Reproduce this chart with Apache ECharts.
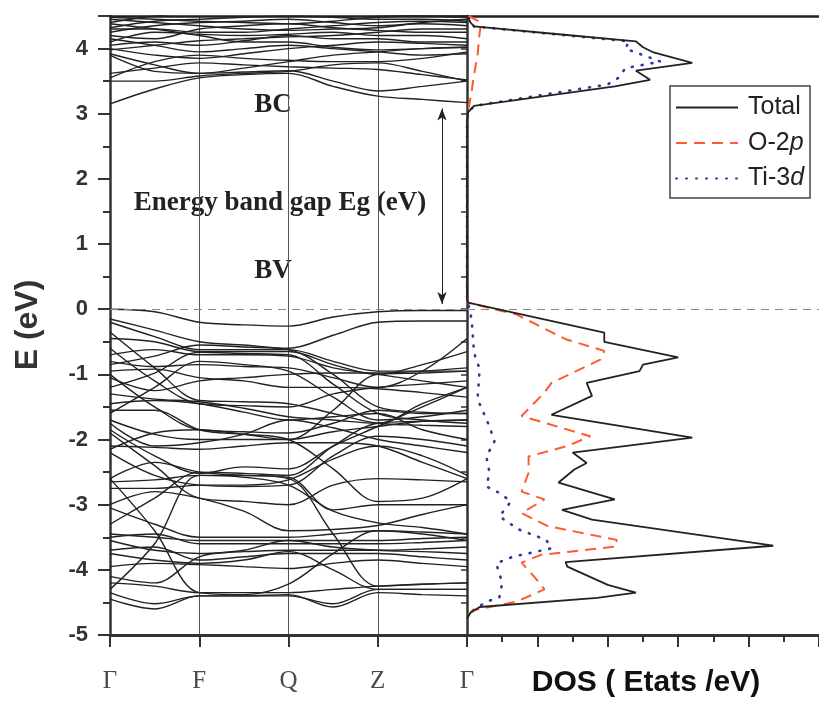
<!DOCTYPE html>
<html>
<head>
<meta charset="utf-8">
<script src="https://cdn.jsdelivr.net/npm/echarts@6/dist/echarts.min.js"></script>
<style>html,body{margin:0;padding:0;background:#fff;}#c{width:819px;height:704px;}</style>
</head>
<body>
<div id="c"></div>
<script>
// ---- k-path ----
const kPoints = [0, 0.5, 1, 1.5, 2, 2.5, 3, 3.5, 4];
const kLabels = ['Γ', 'F', 'Q', 'Z', 'Γ'];
const energyTicks = [-5, -4, -3, -2, -1, 0, 1, 2, 3, 4];

// ---- valence bands (eV at kPoints) ----
const valenceBands = [
  [0.00, -0.04, -0.20, -0.24, -0.26, -0.12, -0.04, -0.02, -0.02],
  [-0.15, -0.32, -0.50, -0.55, -0.60, -0.40, -0.20, -0.18, -0.18],
  [-0.20, -0.42, -0.62, -0.62, -0.62, -0.80, -0.95, -0.95, -0.95],
  [-0.45, -0.50, -0.65, -0.65, -0.65, -0.85, -1.00, -0.85, -0.65],
  [-0.70, -0.62, -0.70, -0.70, -0.72, -0.90, -1.00, -1.10, -1.20],
  [-0.80, -0.88, -0.85, -0.88, -0.90, -1.05, -1.20, -0.95, -0.45],
  [-0.85, -0.72, -0.55, -0.58, -0.62, -1.00, -1.50, -1.58, -1.60],
  [-0.95, -0.92, -1.05, -1.10, -1.20, -1.20, -1.22, -1.28, -1.35],
  [-1.05, -1.25, -1.10, -1.05, -1.00, -0.98, -0.98, -0.95, -0.90],
  [-1.20, -0.98, -0.66, -0.68, -0.70, -1.15, -1.60, -1.70, -1.75],
  [-1.30, -1.38, -1.42, -1.52, -1.65, -1.70, -1.75, -1.45, -1.20],
  [-1.45, -1.40, -1.45, -1.58, -1.70, -1.65, -1.60, -1.85, -2.00],
  [-1.55, -1.55, -1.85, -1.92, -2.00, -1.55, -1.00, -0.98, -0.95],
  [-1.70, -1.92, -2.00, -2.00, -2.00, -1.88, -1.80, -1.72, -1.70],
  [-1.75, -2.10, -2.05, -1.92, -1.70, -1.82, -2.00, -2.10, -2.20],
  [-1.85, -2.25, -2.52, -2.42, -2.45, -2.10, -1.80, -1.50, -1.20],
  [-2.10, -2.12, -2.15, -2.10, -2.05, -2.05, -2.10, -2.35, -2.60],
  [-2.15, -1.90, -1.85, -1.92, -2.00, -2.45, -2.95, -2.90, -2.60],
  [-2.60, -2.35, -2.50, -2.55, -2.58, -3.08, -3.00, -3.00, -3.00],
  [-2.65, -2.62, -2.55, -2.58, -2.70, -3.10, -3.28, -3.35, -3.45],
  [-2.75, -2.75, -2.70, -2.70, -2.62, -2.30, -2.10, -2.25, -2.55],
  [-3.00, -2.80, -2.90, -3.10, -3.40, -3.38, -3.32, -3.15, -3.00],
  [-3.05, -3.30, -3.50, -3.50, -3.50, -3.45, -3.40, -3.42, -3.45],
  [-3.45, -3.50, -3.55, -3.55, -3.55, -3.55, -3.55, -3.52, -3.50],
  [-3.50, -3.45, -3.60, -3.60, -3.60, -3.60, -3.60, -3.58, -3.55],
  [-3.55, -3.70, -3.75, -3.72, -3.70, -3.70, -3.70, -3.68, -3.65],
  [-3.70, -3.65, -3.85, -3.80, -3.75, -3.75, -3.75, -3.80, -3.85],
  [-3.75, -3.85, -3.90, -3.85, -3.72, -4.00, -4.30, -4.30, -4.30],
  [-4.30, -3.60, -2.55, -2.55, -2.60, -3.45, -4.25, -4.22, -4.20],
  [-2.60, -3.40, -4.35, -4.38, -4.22, -3.75, -3.40, -3.45, -3.55],
  [-3.95, -3.90, -3.92, -3.95, -3.98, -3.90, -3.85, -3.90, -3.95],
  [-4.20, -4.25, -4.35, -4.35, -4.35, -4.30, -4.25, -4.22, -4.20],
  [-4.35, -4.52, -4.40, -4.40, -4.40, -4.52, -4.30, -4.30, -4.30],
  [-4.45, -4.60, -4.40, -4.40, -4.38, -4.57, -4.35, -4.38, -4.40],
  [-1.00, -1.50, -1.85, -1.88, -1.90, -1.75, -1.55, -1.60, -1.60],
  [-1.60, -1.20, -0.80, -0.85, -0.95, -1.35, -1.70, -1.65, -1.55],
  [-2.20, -2.55, -2.70, -2.72, -2.70, -2.25, -1.95, -2.00, -2.10],
  [-0.35, -0.90, -1.40, -1.42, -1.45, -1.60, -1.75, -1.78, -1.80],
  [-0.60, -1.10, -1.45, -1.48, -1.50, -1.30, -1.20, -1.15, -1.10],
  [-1.90, -2.40, -2.90, -2.95, -3.00, -2.70, -2.60, -2.62, -2.65],
  [-3.30, -2.90, -2.50, -2.52, -2.55, -2.10, -1.75, -1.72, -1.70],
  [-4.10, -4.20, -3.80, -3.70, -3.55, -3.65, -3.70, -3.72, -3.75]
];

// ---- conduction bands (eV at kPoints) ----
const conductionBands = [
  [3.15, 3.38, 3.55, 3.60, 3.62, 3.42, 3.27, 3.22, 3.17],
  [3.50, 3.50, 3.58, 3.62, 3.65, 3.75, 3.78, 3.65, 3.50],
  [3.90, 3.65, 3.62, 3.64, 3.66, 3.50, 3.35, 3.42, 3.50],
  [3.55, 3.80, 3.90, 3.85, 3.82, 3.80, 3.80, 3.85, 3.95],
  [3.92, 3.75, 3.62, 3.70, 3.80, 3.90, 3.95, 4.00, 4.02],
  [4.00, 3.90, 3.85, 3.92, 4.00, 4.05, 4.10, 4.08, 4.05],
  [4.05, 4.10, 4.05, 4.12, 4.20, 4.15, 4.15, 4.10, 4.10],
  [4.10, 4.25, 4.22, 4.20, 4.22, 4.25, 4.20, 4.20, 4.15],
  [4.20, 4.15, 4.30, 4.35, 4.38, 4.32, 4.28, 4.25, 4.25],
  [4.25, 4.35, 4.40, 4.42, 4.45, 4.40, 4.35, 4.38, 4.35],
  [4.32, 4.42, 4.45, 4.48, 4.50, 4.48, 4.45, 4.45, 4.42],
  [4.40, 4.50, 4.55, 4.55, 4.60, 4.55, 4.52, 4.50, 4.48],
  [4.45, 4.40, 4.35, 4.30, 4.28, 4.30, 4.32, 4.40, 4.45],
  [3.98, 4.05, 4.12, 4.15, 4.18, 4.20, 4.25, 4.30, 4.30],
  [4.15, 4.05, 3.95, 4.00, 4.05, 4.00, 3.95, 3.90, 3.92],
  [4.30, 4.30, 4.25, 4.25, 4.30, 4.35, 4.40, 4.42, 4.40],
  [4.48, 4.45, 4.42, 4.40, 4.38, 4.42, 4.48, 4.50, 4.50],
  [4.38, 4.30, 4.20, 4.10, 4.10, 4.02, 3.98, 4.00, 4.02],
  [3.62, 3.70, 3.78, 3.75, 3.72, 3.70, 3.68, 3.60, 3.52]
];

// ---- DOS (energy in eV, DOS in states/eV) ----
const totalE   = [4.48, 4.40, 4.34, 4.22, 4.11, 4.02, 3.94, 3.78, 3.66, 3.52, 3.42, 3.12, 3.02, 2.90, 0.15, 0.10, -0.36, -0.50, -0.74, -0.85, -0.95, -1.13, -1.33, -1.62, -1.97, -2.20, -2.36, -2.46, -2.66, -2.92, -3.08, -3.23, -3.63, -3.88, -3.95, -4.23, -4.35, -4.43, -4.57, -4.66, -4.75];
const totalDos = [0.03, 0.10, 0.20, 2.60, 4.80, 5.00, 5.30, 6.40, 4.80, 5.20, 4.20, 0.20, 0.03, 0.00, 0.00, 0.03, 3.90, 3.90, 6.00, 5.00, 4.90, 3.40, 3.55, 2.40, 6.40, 3.00, 3.40, 3.05, 2.60, 4.20, 2.70, 3.55, 8.70, 2.80, 2.85, 4.00, 4.80, 3.70, 0.36, 0.10, 0.00];

const o2pE   = [4.50, 4.40, 4.20, 3.90, 3.60, 3.30, 3.10, 3.00, 0.15, 0.10, -0.08, -0.46, -0.64, -0.77, -0.95, -1.13, -1.28, -1.64, -1.95, -2.10, -2.26, -2.51, -2.80, -2.92, -3.13, -3.33, -3.54, -3.64, -3.77, -3.89, -4.10, -4.30, -4.49, -4.62, -4.70];
const o2pDos = [0.05, 0.40, 0.35, 0.30, 0.20, 0.12, 0.05, 0.00, 0.00, 0.02, 1.40, 2.80, 3.90, 3.80, 3.10, 2.40, 2.20, 1.55, 3.50, 2.85, 1.75, 1.75, 1.55, 2.20, 1.55, 2.30, 4.25, 4.25, 2.10, 1.55, 1.90, 2.20, 1.40, 0.17, 0.02];

const ti3dE   = [4.48, 4.40, 4.34, 4.22, 4.11, 4.00, 3.90, 3.80, 3.70, 3.55, 3.45, 3.12, 3.02, 2.90, 0.15, 0.05, -0.15, -0.67, -0.92, -1.38, -1.80, -2.03, -2.26, -2.51, -2.72, -2.82, -2.95, -3.18, -3.38, -3.54, -3.67, -3.80, -3.90, -4.20, -4.42, -4.49, -4.62, -4.70];
const ti3dDos = [0.05, 0.12, 0.20, 2.50, 4.60, 4.50, 5.00, 5.50, 4.50, 4.30, 4.00, 0.20, 0.03, 0.00, 0.00, 0.05, 0.13, 0.20, 0.36, 0.30, 0.64, 0.78, 0.55, 0.64, 0.55, 0.92, 1.25, 0.92, 1.47, 2.25, 2.40, 1.30, 0.83, 1.00, 0.92, 0.55, 0.17, 0.02];

const SANS = 'Liberation Sans';
const SERIF = 'Liberation Serif';

function bandSeries(band, extra) {
  const s = {
    type: 'line', xAxisIndex: 0, yAxisIndex: 0,
    data: kPoints.map((k, j) => [k, band[j]]),
    showSymbol: false, symbol: 'none', smooth: 0.35,
    lineStyle: { color: '#222', width: 1.4 },
    silent: true, clip: true, z: 3
  };
  return Object.assign(s, extra || {});
}

const series = [];
valenceBands.forEach((b, i) => {
  const extra = i === 0 ? {
    markLine: {
      silent: true, symbol: ['arrow', 'arrow'], symbolSize: [7, 12],
      label: { show: false },
      lineStyle: { color: '#222', width: 1, type: 'solid' },
      data: [[{ coord: [3.72, 3.08] }, { coord: [3.72, 0.08] }]]
    }
  } : null;
  series.push(bandSeries(b, extra));
});
conductionBands.forEach((b, i) => {
  const extra = i === 0 ? {
    markLine: {
      silent: true, symbol: 'none', label: { show: false },
      lineStyle: { color: '#888', width: 1, type: [8, 6] },
      data: [{ yAxis: 0 }]
    }
  } : null;
  series.push(bandSeries(b, extra));
});

series.push({
  name: 'Ti-3d', type: 'line', xAxisIndex: 1, yAxisIndex: 1,
  data: ti3dE.map((e, i) => [ti3dDos[i], e]),
  symbol: 'none', showSymbol: false,
  lineStyle: { color: '#2b3a95', width: 2.6, type: [1, 9], cap: 'round' },
  itemStyle: { color: '#2b3a95' }, z: 4
});
series.push({
  name: 'O-2p', type: 'line', xAxisIndex: 1, yAxisIndex: 1,
  data: o2pE.map((e, i) => [o2pDos[i], e]),
  symbol: 'none', showSymbol: false,
  lineStyle: { color: '#ff5a30', width: 2, type: [11, 7] },
  itemStyle: { color: '#ff5a30' }, z: 4,
  markLine: {
    silent: true, symbol: 'none', label: { show: false },
    lineStyle: { color: '#888', width: 1, type: [8, 6] },
    data: [{ yAxis: 0 }]
  }
});
series.push({
  name: 'Total', type: 'line', xAxisIndex: 1, yAxisIndex: 1,
  data: totalE.map((e, i) => [totalDos[i], e]),
  symbol: 'none', showSymbol: false,
  lineStyle: { color: '#222', width: 1.8 },
  itemStyle: { color: '#222' }, z: 5
});

const chart = echarts.init(document.getElementById('c'), null, { renderer: 'canvas' });
chart.setOption({
  animation: false,
  backgroundColor: '#fff',
  grid: [
    { left: 110, width: 357, top: 16, bottom: 69 },
    { left: 467, width: 360, top: 16, bottom: 69 }
  ],
  xAxis: [
    {
      type: 'value', gridIndex: 0, min: 0, max: 4, interval: 1,
      axisLine: { show: true, onZero: false, lineStyle: { color: '#333', width: 3 } },
      axisTick: { show: true, length: 12, lineStyle: { color: '#333', width: 2 } },
      axisLabel: {
        show: true, margin: 34, fontFamily: SERIF, fontSize: 25, color: '#4a4a4a',
        formatter: v => kLabels[Math.round(v)]
      },
      splitLine: { show: true, lineStyle: { color: '#555', width: 1 } }
    },
    {
      type: 'value', gridIndex: 1, min: 0, max: 10, interval: 2,
      axisLine: { show: true, onZero: false, lineStyle: { color: '#333', width: 3 } },
      axisTick: { show: true, length: 12, lineStyle: { color: '#333', width: 2 } },
      minorTick: { show: true, splitNumber: 2, length: 7, lineStyle: { color: '#333', width: 2 } },
      axisLabel: { show: false },
      splitLine: { show: false }
    },
    {
      type: 'value', gridIndex: 1, position: 'top', min: 0, max: 10,
      axisLine: { show: true, onZero: false, lineStyle: { color: '#222', width: 2.5 } },
      axisTick: { show: false }, axisLabel: { show: false }, splitLine: { show: false }
    },
    {
      type: 'value', gridIndex: 0, position: 'top', min: 0, max: 4,
      axisLine: { show: true, onZero: false, lineStyle: { color: '#222', width: 2.5 } },
      axisTick: { show: false }, axisLabel: { show: false }, splitLine: { show: false }
    }
  ],
  yAxis: [
    {
      type: 'value', gridIndex: 0, min: -5, max: 4.5, interval: 1,
      axisLine: { show: true, onZero: false, lineStyle: { color: '#333', width: 2.5 } },
      axisTick: { show: true, length: 12, lineStyle: { color: '#333', width: 2 } },
      minorTick: { show: true, splitNumber: 2, length: 7, lineStyle: { color: '#333', width: 2 } },
      axisLabel: {
        show: true, margin: 22, fontFamily: SANS, fontSize: 22, fontWeight: 'bold', color: '#333',
        formatter: v => (energyTicks.indexOf(v) >= 0 ? String(v) : '')
      },
      splitLine: { show: false }
    },
    {
      type: 'value', gridIndex: 1, min: -5, max: 4.5, interval: 0.5,
      axisLine: { show: true, onZero: false, lineStyle: { color: '#333', width: 2.5 } },
      axisTick: { show: true, length: 6, lineStyle: { color: '#333', width: 1.5 } },
      axisLabel: { show: false },
      splitLine: { show: false }
    }
  ],
  legend: {
    data: ['Total', 'O-2p', 'Ti-3d'],
    orient: 'vertical', left: 670, top: 86,
    padding: [9, 6, 7, 5], itemGap: 10.5,
    itemWidth: 62, itemHeight: 14,
    borderColor: '#444', borderWidth: 1.5,
    backgroundColor: '#fff',
    itemStyle: { opacity: 0 },
    formatter: name => {
      if (name === 'O-2p') return '{n|O-2}{i|p}';
      if (name === 'Ti-3d') return '{n|Ti-3}{i|d}';
      return '{n|' + name + '}';
    },
    textStyle: {
      fontFamily: SANS, fontSize: 25, color: '#222',
      rich: {
        n: { fontFamily: SANS, fontSize: 25, color: '#222', padding: [0, 0, 0, 5] },
        i: { fontFamily: SANS, fontSize: 25, color: '#222', fontStyle: 'italic' }
      }
    }
  },
  graphic: [
    { type: 'text', x: 28, y: 325, rotation: Math.PI / 2,
      style: { text: 'E (eV)', fontFamily: SANS, fontSize: 32, fontWeight: 'bold', fill: '#333', align: 'center', verticalAlign: 'middle' } },
    { type: 'text', x: 646, y: 683,
      style: { text: 'DOS ( Etats /eV)', fontFamily: SANS, fontSize: 30, fontWeight: 'bold', fill: '#111', align: 'center', verticalAlign: 'middle' } },
    { type: 'text', x: 273, y: 105,
      style: { text: 'BC', fontFamily: SERIF, fontSize: 27, fontWeight: 'bold', fill: '#222', align: 'center', verticalAlign: 'middle' } },
    { type: 'text', x: 280, y: 203,
      style: { text: 'Energy band gap Eg (eV)', fontFamily: SERIF, fontSize: 27, fontWeight: 'bold', fill: '#222', align: 'center', verticalAlign: 'middle' } },
    { type: 'text', x: 273, y: 271,
      style: { text: 'BV', fontFamily: SERIF, fontSize: 27, fontWeight: 'bold', fill: '#222', align: 'center', verticalAlign: 'middle' } }
  ],
  series: series
});
</script>
</body>
</html>
